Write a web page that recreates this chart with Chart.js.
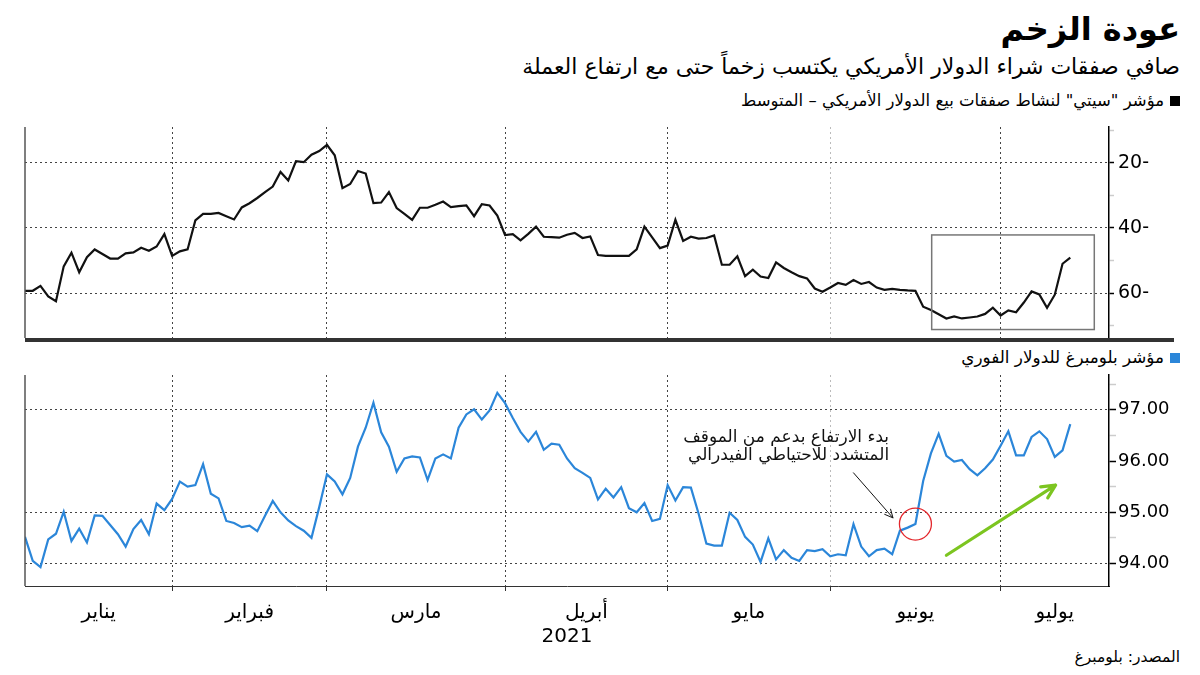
<!DOCTYPE html>
<html lang="ar">
<head>
<meta charset="utf-8">
<script src="https://cdn.jsdelivr.net/npm/chart.js@4"></script>
<style>
  body { margin: 0; background: #fff; }
  #page { position: relative; width: 1200px; height: 675px; overflow: hidden; font-family: "DejaVu Sans", sans-serif; color: #000; }
  .txt { position: absolute; right: 20px; direction: rtl; white-space: nowrap; }
  #title { top: 10px; font-size: 32px; font-weight: bold; }
  #subtitle { top: 54px; font-size: 22px; }
  #legend-top { top: 91px; font-size: 16.5px; }
  #legend-bottom { top: 347px; font-size: 16.8px; }
  #source { top: 648px; font-size: 15.5px; }
  .sq { display: inline-block; width: 10px; height: 10px; margin-left: 6px; vertical-align: 0; }
  canvas { position: absolute; left: 0; }
  #citiChart { top: 121px; }
  #dollarChart { top: 372px; }
</style>
</head>
<body>
<div id="page">
  <div class="txt" id="title">عودة الزخم</div>
  <div class="txt" id="subtitle">صافي صفقات شراء الدولار الأمريكي يكتسب زخماً حتى مع ارتفاع العملة</div>
  <div class="txt" id="legend-top"><span class="sq" style="background:#000"></span>مؤشر "سيتي" لنشاط صفقات بيع الدولار الأمريكي – المتوسط</div>
  <div class="txt" id="legend-bottom"><span class="sq" style="background:#2b86d9"></span>مؤشر بلومبرغ للدولار الفوري</div>
  <div class="txt" id="source">المصدر: بلومبرغ</div>
  <canvas id="citiChart" width="1200" height="224"></canvas>
  <canvas id="dollarChart" width="1200" height="303"></canvas>
</div>

<script>
// Trading-day series, Jan 4 – mid July 2021 (one value per session)
const citiIndex = [
  59.3, 59.3, 57.8, 61.0, 62.5, 51.8, 47.6, 53.6, 49.0, 46.6,
  48.0, 49.4, 49.4, 47.8, 47.5, 46.1, 47.0, 45.7, 41.9, 48.6,
  47.2, 46.6, 37.7, 35.7, 35.7, 35.4, 36.4, 37.4, 33.7, 32.4,
  30.8, 29.0, 27.3, 22.8, 25.4, 19.5, 19.8, 17.5, 16.4, 14.5,
  17.7, 27.8, 26.5, 22.5, 23.3, 32.4, 32.2, 29.0, 33.9, 35.7,
  37.5, 33.8, 33.8, 32.9, 31.9, 33.6, 33.3, 33.1, 36.4, 32.7,
  33.1, 36.2, 42.2, 41.9, 43.8, 41.8, 39.6, 42.7, 42.8, 43.0,
  42.1, 41.5, 43.1, 42.6, 48.3, 48.6, 48.6, 48.6, 48.6, 46.6,
  39.6, 42.9, 46.2, 45.4, 37.5, 44.0, 42.7, 43.3, 43.1, 42.3,
  51.3, 51.3, 48.7, 54.8, 52.8, 54.9, 55.4, 50.6, 52.3, 53.6,
  54.8, 55.5, 58.6, 59.6, 58.3, 56.9, 57.5, 56.0, 57.2, 56.6,
  58.3, 59.0, 58.7, 59.0, 59.2, 59.3, 64.2, 65.2, 66.5, 67.8,
  67.2, 67.8, 67.5, 67.2, 66.4, 64.5, 66.9, 65.3, 65.9, 62.9,
  59.5, 60.4, 64.5, 60.5, 51.0, 49.1
];

const dollarIndex = [
  94.52, 94.05, 93.93, 94.47, 94.58, 95.01, 94.44, 94.68, 94.41, 94.94,
  94.93, 94.75, 94.57, 94.33, 94.67, 94.85, 94.57, 95.17, 95.04, 95.26,
  95.60, 95.50, 95.53, 95.94, 95.36, 95.27, 94.83, 94.79, 94.71, 94.74,
  94.63, 94.93, 95.22, 95.00, 94.84, 94.73, 94.64, 94.50, 95.10, 95.74,
  95.60, 95.35, 95.67, 96.28, 96.65, 97.14, 96.56, 96.28, 95.79, 96.05,
  96.09, 96.07, 95.63, 96.05, 96.13, 96.05, 96.65, 96.91, 97.01, 96.81,
  96.99, 97.33, 97.13, 96.84, 96.57, 96.38, 96.57, 96.22, 96.34, 96.32,
  96.05, 95.86, 95.77, 95.67, 95.25, 95.46, 95.29, 95.49, 95.08, 95.00,
  95.18, 94.83, 94.87, 95.53, 95.23, 95.49, 95.48, 94.97, 94.39, 94.35,
  94.35, 94.99, 94.85, 94.52, 94.37, 94.03, 94.49, 94.08, 94.26, 94.11,
  94.05, 94.26, 94.24, 94.28, 94.14, 94.18, 94.16, 94.77, 94.33, 94.14,
  94.26, 94.29, 94.18, 94.64, 94.70, 94.77, 95.61, 96.15, 96.53, 96.10,
  95.99, 96.02, 95.84, 95.72, 95.86, 96.03, 96.30, 96.58, 96.11, 96.11,
  96.47, 96.58, 96.43, 96.08, 96.21, 96.72
];

const monthNames = ['يناير', 'فبراير', 'مارس', 'أبريل', 'مايو', 'يونيو', 'يوليو'];
// session index of the first trading day of Feb..Jul
const monthStarts = [19, 39, 62, 83, 104, 126];
const yearLabel = '2021';
const yearTickAt = 70;

const citiTicks = [10, 20, 30, 40, 50, 60, 70];
const citiLabelled = [20, 40, 60];
const dollarTicks = [94, 94.5, 95, 95.5, 96, 96.5, 97, 97.5];
const dollarGridded = [94, 95, 97];

const X_MAX = 140;
const FONT = '"DejaVu Sans", sans-serif';
const BLUE = '#2b86d9';

Chart.defaults.font.family = FONT;
Chart.defaults.color = '#000';

// month label positions: middle of each month span
const monthEdges = [0, ...monthStarts, X_MAX];
const monthMids = monthNames.map((m, i) => (monthEdges[i] + monthEdges[i + 1]) / 2);

const toPoints = arr => arr.map((v, i) => ({ x: i, y: v }));

function gridColor(value) {
  if (!monthStarts.includes(value)) return 'transparent';
  return value === 104 ? '#bbbbbb' : '#444444';
}

// keep the plot box fixed: no extra room for overhanging labels
function noOverhang(s) {
  s.paddingTop = 0;
  s.paddingBottom = 0;
  s.paddingLeft = 0;
  s.paddingRight = 0;
}

function arrow(ctx, x1, y1, x2, y2, head, color, width) {
  const a = Math.atan2(y2 - y1, x2 - x1);
  ctx.save();
  ctx.strokeStyle = color;
  ctx.lineWidth = width;
  ctx.lineCap = 'round';
  ctx.lineJoin = 'round';
  ctx.beginPath();
  ctx.moveTo(x1, y1);
  ctx.lineTo(x2, y2);
  ctx.moveTo(x2 - head * Math.cos(a - 0.45), y2 - head * Math.sin(a - 0.45));
  ctx.lineTo(x2, y2);
  ctx.lineTo(x2 - head * Math.cos(a + 0.45), y2 - head * Math.sin(a + 0.45));
  ctx.stroke();
  ctx.restore();
}

// frame pieces for the top panel: left edge, heavy base bar, highlight box
const citiDecor = {
  id: 'citiDecor',
  afterDraw(chart) {
    const { ctx, chartArea: a, scales: { x, y } } = chart;
    ctx.save();
    ctx.strokeStyle = '#555';
    ctx.lineWidth = 1.5;
    ctx.beginPath();
    ctx.moveTo(a.left, a.top);
    ctx.lineTo(a.left, a.bottom);
    ctx.stroke();

    ctx.fillStyle = '#333';
    ctx.fillRect(a.left, a.bottom, 1174 - a.left, 4);

    const bx1 = x.getPixelForValue(117.1), bx2 = x.getPixelForValue(138.1);
    const by1 = y.getPixelForValue(42.15), by2 = y.getPixelForValue(71.2);
    ctx.strokeStyle = '#777';
    ctx.lineWidth = 1.5;
    ctx.strokeRect(bx1, by1, bx2 - bx1, by2 - by1);
    ctx.restore();
  }
};

const dollarDecor = {
  id: 'dollarDecor',
  afterDraw(chart) {
    const { ctx, chartArea: a, scales: { x, y } } = chart;
    ctx.save();
    ctx.strokeStyle = '#555';
    ctx.lineWidth = 1.5;
    ctx.beginPath();
    ctx.moveTo(a.left, a.top);
    ctx.lineTo(a.left, a.bottom);
    ctx.stroke();

    // red ring on the Fed-day point
    ctx.strokeStyle = '#e3262b';
    ctx.lineWidth = 1.3;
    ctx.beginPath();
    ctx.arc(x.getPixelForValue(115), y.getPixelForValue(dollarIndex[115]), 16, 0, Math.PI * 2);
    ctx.stroke();

    arrow(ctx, x.getPixelForValue(119), y.getPixelForValue(94.16),
      x.getPixelForValue(133.1), y.getPixelForValue(95.53), 15, '#7cc520', 3.2);
    arrow(ctx, x.getPixelForValue(107), y.getPixelForValue(95.77),
      x.getPixelForValue(112.1), y.getPixelForValue(94.89), 9, '#111', 1);

    ctx.fillStyle = '#111';
    ctx.font = '17px ' + FONT;
    ctx.textAlign = 'right';
    ctx.textBaseline = 'middle';
    ctx.direction = 'rtl';
    const tx = x.getPixelForValue(111.6);
    ctx.fillText('بدء الارتفاع بدعم من الموقف', tx, y.getPixelForValue(96.46));
    ctx.fillText('المتشدد للاحتياطي الفيدرالي', tx, y.getPixelForValue(96.1));
    ctx.restore();
  }
};

// Top panel: Citi positioning index (inverted)
new Chart(document.getElementById('citiChart').getContext('2d'), {
  type: 'line',
  data: {
    datasets: [{
      data: toPoints(citiIndex),
      borderColor: '#111',
      borderWidth: 2.2,
      pointRadius: 0,
      tension: 0
    }]
  },
  options: {
    responsive: false,
    animation: false,
    devicePixelRatio: 1,
    layout: { padding: { left: 25, top: 6, right: 0, bottom: 0 } },
    plugins: { legend: { display: false }, tooltip: { enabled: false } },
    scales: {
      x: {
        type: 'linear',
        min: 0,
        max: X_MAX,
        afterBuildTicks: s => { s.ticks = monthStarts.map(v => ({ value: v })); },
        afterFit: s => { s.height = 7; noOverhang(s); },
        ticks: { display: false },
        grid: { color: c => gridColor(c.tick.value), drawTicks: false, lineWidth: 1 },
        border: { display: false, dash: [2, 3] }
      },
      y: {
        position: 'right',
        reverse: true,
        min: 9,
        max: 73.8,
        afterBuildTicks: s => { s.ticks = citiTicks.map(v => ({ value: v })); },
        afterFit: s => { s.width = 91; noOverhang(s); },
        ticks: {
          font: { size: 19 },
          padding: 4,
          callback: v => citiLabelled.includes(v) ? v + '-' : ''
        },
        grid: {
          color: c => citiLabelled.includes(c.tick.value) ? '#444' : 'transparent',
          tickColor: c => citiLabelled.includes(c.tick.value) ? '#000' : '#ccc',
          tickLength: 5,
          tickWidth: 1.5
        },
        border: { color: '#000', width: 1.5, dash: [2, 3] }
      }
    }
  },
  plugins: [citiDecor]
});

// Bottom panel: Bloomberg spot dollar index
const xTicks = [
  ...monthStarts.map(v => ({ value: v, label: '' })),
  ...monthMids.map((v, i) => ({ value: v, label: monthNames[i] })),
  { value: yearTickAt, label: ['', yearLabel] }
];

new Chart(document.getElementById('dollarChart').getContext('2d'), {
  type: 'line',
  data: {
    datasets: [{
      data: toPoints(dollarIndex),
      borderColor: BLUE,
      borderWidth: 2.2,
      pointRadius: 0,
      tension: 0
    }]
  },
  options: {
    responsive: false,
    animation: false,
    devicePixelRatio: 1,
    layout: { padding: { left: 25, top: 3, right: 0, bottom: 0 } },
    plugins: { legend: { display: false }, tooltip: { enabled: false } },
    scales: {
      x: {
        type: 'linear',
        min: 0,
        max: X_MAX,
        afterBuildTicks: s => { s.ticks = xTicks.map(t => ({ value: t.value })); },
        afterFit: s => { s.height = 89; noOverhang(s); },
        ticks: {
          autoSkip: false,
          maxRotation: 0,
          padding: 10,
          font: { size: 20 },
          callback: v => {
            const t = xTicks.find(k => k.value === v);
            return t ? t.label : '';
          }
        },
        grid: {
          color: c => gridColor(c.tick.value),
          tickColor: c => monthStarts.includes(c.tick.value) ? '#333' : 'transparent',
          tickLength: 5,
          lineWidth: 1
        },
        border: { color: '#333', width: 1, dash: [2, 3] }
      },
      y: {
        position: 'right',
        min: 93.56,
        max: 97.68,
        afterBuildTicks: s => { s.ticks = dollarTicks.map(v => ({ value: v })); },
        afterFit: s => { s.width = 91; noOverhang(s); },
        ticks: {
          font: { size: 18 },
          padding: 2,
          callback: v => Number.isInteger(v) ? v.toFixed(2) : ''
        },
        grid: {
          color: c => dollarGridded.includes(c.tick.value) ? '#444' : 'transparent',
          tickColor: c => Number.isInteger(c.tick.value) ? '#000' : '#ccc',
          tickLength: 7,
          tickWidth: 1.5
        },
        border: { color: '#000', width: 1.5, dash: [2, 3] }
      }
    }
  },
  plugins: [dollarDecor]
});
</script>
</body>
</html>
